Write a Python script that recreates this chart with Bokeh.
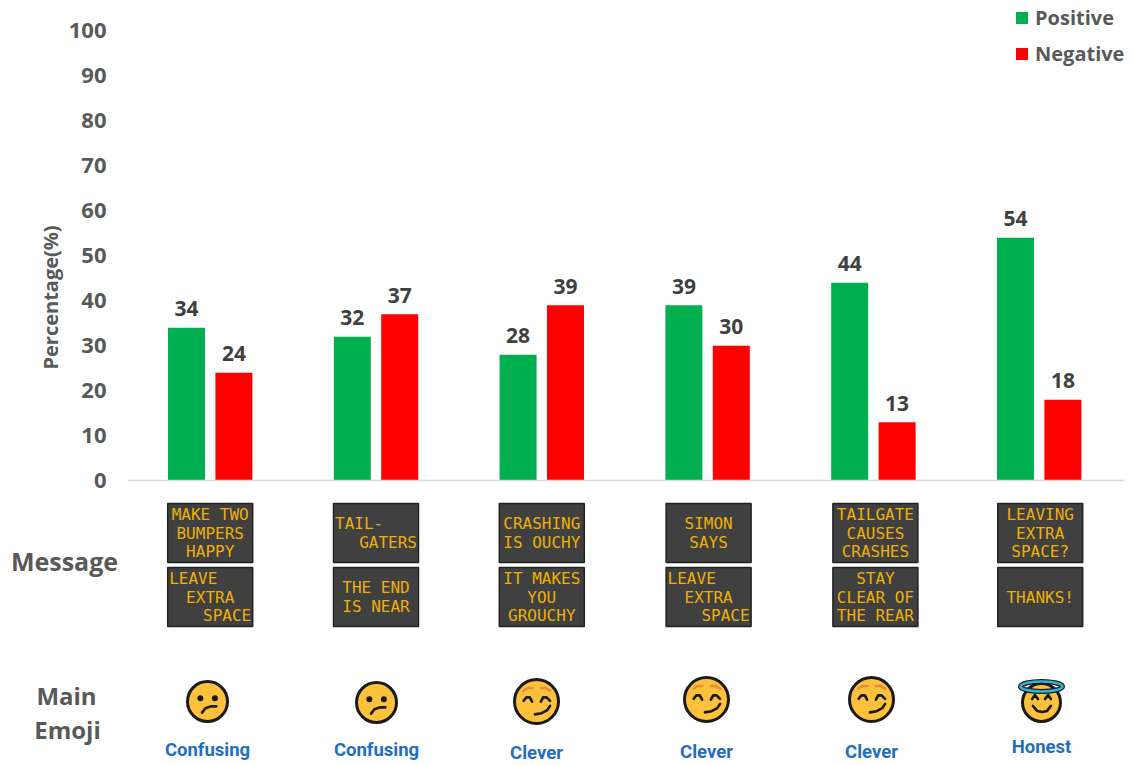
from bokeh.plotting import figure
from bokeh.models import (ColumnDataSource, Legend, LegendItem, FixedTicker, Range1d)
from bokeh.core.properties import value
from bokeh.embed import file_html
from bokeh.resources import INLINE

# ---------- data ----------
positive = [34, 32, 28, 39, 44, 54]
negative = [24, 37, 39, 30, 13, 18]
y_ticks = [0, 10, 20, 30, 40, 50, 60, 70, 80, 90, 100]
signs_top = [["MAKE TWO", "BUMPERS", "HAPPY"], ["TAIL-", "GATERS"], ["CRASHING", "IS OUCHY"],
             ["SIMON", "SAYS"], ["TAILGATE", "CAUSES", "CRASHES"], ["LEAVING", "EXTRA", "SPACE?"]]
signs_bottom = [["LEAVE", "EXTRA", "SPACE"], ["THE END", "IS NEAR"], ["IT MAKES", "YOU", "GROUCHY"],
                ["LEAVE", "EXTRA", "SPACE"], ["STAY", "CLEAR OF", "THE REAR"], ["THANKS!"]]
line_align = {"LEAVE": "left", "SPACE": "right", "TAIL-": "left", "GATERS": "right"}
emoji_kinds = ["confused", "confused", "clever", "clever", "clever", "honest"]
emoji_words = ["Confusing", "Confusing", "Clever", "Clever", "Clever", "Honest"]

# ---------- layout (page pixels) ----------
W, H = 1132, 765
X0, DX = 209.7, 165.8      # first group centre, group pitch
Y0, DY = 480.3, 4.5        # pixel row of zero, pixels per percent
LEFT = 128
def fx(px): return (px - X0) / DX
def fy(py): return (Y0 - py) / DY

GRAY = "#595959"
FONT = "Open Sans"
groups = list(range(len(positive)))

p = figure(width=W, height=H, output_backend="svg", toolbar_location=None,
           x_range=Range1d(fx(0), fx(W)), y_range=Range1d(fy(H), fy(0)),
           min_border_left=0, min_border_right=0, min_border_top=0, min_border_bottom=0,
           outline_line_color=None)
p.margin = (0, 0, 0, 0)
p.grid.visible = False

yax = p.yaxis[0]
yax.fixed_location = fx(LEFT)
yax.ticker = FixedTicker(ticks=y_ticks)
yax.bounds = (0, 100)
yax.axis_line_color = None
yax.major_tick_line_color = None
yax.minor_tick_line_color = None
yax.major_tick_in = 0
yax.major_tick_out = 0
yax.major_label_standoff = 22
yax.major_label_text_font = FONT
yax.major_label_text_font_style = "bold"
yax.major_label_text_font_size = "22px"
yax.major_label_text_color = GRAY

xax = p.xaxis[0]
xax.fixed_location = 0
xax.ticker = FixedTicker(ticks=[])
xax.bounds = (fx(LEFT), fx(1124))
xax.axis_line_color = "#D9D9D9"
xax.axis_line_width = 1.5
xax.major_tick_line_color = None
xax.minor_tick_line_color = None

# ---------- bars ----------
OFF, BW = 0.143, 37 / DX
src = ColumnDataSource(dict(g=groups, pos=positive, neg=negative,
                            xp=[g - OFF for g in groups], xn=[g + OFF for g in groups],
                            lp=[str(v) for v in positive], ln=[str(v) for v in negative]))
rp = p.vbar(x="xp", top="pos", bottom=0, width=BW, source=src, fill_color="#00B050", line_color=None)
rn = p.vbar(x="xn", top="neg", bottom=0, width=BW, source=src, fill_color="#FF0000", line_color=None)
for xf, tf in (("xp", "lp"), ("xn", "ln")):
    yf = "pos" if tf == "lp" else "neg"
    p.text(x=xf, y=yf, text=tf, source=src, text_align="center", text_baseline="middle", y_offset=-19,
           text_font=value(FONT), text_font_style="bold", text_font_size="21px", text_color="#404040")

legend = Legend(items=[LegendItem(label="Positive", renderers=[rp]), LegendItem(label="Negative", renderers=[rn])],
                location=(1014, H - 67), orientation="vertical", border_line_color=None,
                background_fill_color=None, padding=0, margin=0, spacing=9,
                glyph_width=15, glyph_height=15, label_standoff=6,
                label_text_font=FONT, label_text_font_style="bold", label_text_font_size="20px",
                label_text_color=GRAY)
p.add_layout(legend, "center")

# ---------- message signs ----------
panel_nudge = [0, 0, 0, 1, 2, 1]
PW = 85
ROW = 18.5
for signs, cy in ((signs_top, 532.5), (signs_bottom, 596.5)):
    p.rect(x=[g + n / DX for g, n in zip(groups, panel_nudge)], y=[fy(cy)] * 6,
           width=PW / DX, height=59 / DY, fill_color="#404040", line_color="#222222", line_width=1.5)
    rows = {"left": ([], [], []), "center": ([], [], []), "right": ([], [], [])}
    for g, lines in enumerate(signs):
        cx = X0 + g * DX + panel_nudge[g]
        for r, t in enumerate(lines):
            al = line_align.get(t, "center")
            px = {"left": cx - PW / 2 + 1.5, "center": cx, "right": cx + PW / 2 - 1.5}[al]
            rows[al][0].append(fx(px))
            rows[al][1].append(fy(cy + (r - (len(lines) - 1) / 2) * ROW))
            rows[al][2].append(t)
    for al, (xs, ys, ts) in rows.items():
        if ts:
            p.text(x=xs, y=ys, text=ts, text_align=al, text_baseline="middle",
                   text_font=value("DejaVu Sans Mono"), text_font_size="16px", text_color="#EDB006")

# ---------- emoji ----------
emoji_px = [(207, 701, 21), (376, 702, 21), (536, 701, 23), (706, 699, 23), (871, 699, 23), (1041, 702, 20)]
faces = {
    "confused": {"eyes": [(-.34, .16), (.35, .16)],
                 "black": [[(-.26, -.53), (-.1, -.32), (.18, -.23), (.42, -.23)]], "brow": []},
    "clever": {"eyes": [],
               "black": [[(-.56, .03), (-.44, .18), (-.29, .18), (-.19, -.01)],
                         [(.19, -.01), (.29, .18), (.44, .18), (.59, .03)],
                         [(-.07, -.56), (.22, -.51), (.47, -.37), (.59, -.19)]],
               "brow": [[(-.56, .47), (-.37, .6), (-.18, .59)], [(.19, .59), (.37, .6), (.59, .47)]]},
    "honest": {"eyes": [],
               "black": [[(-.47, .17), (-.33, .37), (-.17, .17)], [(.17, .17), (.33, .37), (.47, .17)],
                         [(-.43, -.17), (-.22, -.42), (.03, -.47), (.28, -.42), (.47, -.17)]],
               "brow": []},
}
for (ex, ey, er), kind in zip(emoji_px, emoji_kinds):
    p.scatter(x=[fx(ex)], y=[fy(ey)], size=2 * er - 2, marker="circle", fill_color="#FDC13C",
              line_color="#1A1A1A", line_width=3)
    f = faces[kind]
    def seg(pts):
        return [fx(ex + a * er) for a, b in pts], [fy(ey - b * er) for a, b in pts]
    for pts, col in [(q, "#1A1A1A") for q in f["black"]] + [(q, "#E58F3B") for q in f["brow"]]:
        xs, ys = seg(pts)
        p.line(xs, ys, line_color=col, line_width=2.6, line_cap="round", line_join="round")
    if f["eyes"]:
        xs, ys = seg(f["eyes"])
        p.scatter(xs, ys, size=6, marker="circle", fill_color="#1A1A1A", line_color=None)
    if kind == "honest":
        p.ellipse(x=[fx(ex)], y=[fy(ey - 16)], width=42 / DX, height=10 / DY,
                  fill_color=None, line_color="#1A1A1A", line_width=5)
        p.ellipse(x=[fx(ex)], y=[fy(ey - 16)], width=42 / DX, height=10 / DY,
                  fill_color=None, line_color="#2DB5DC", line_width=2.5)

word_px = [(207, 749), (376, 749), (536, 752), (706, 751), (871, 751), (1041, 746)]
p.text(x=[fx(a) for a, b in word_px], y=[fy(b) for a, b in word_px], text=emoji_words,
       text_align="center", text_baseline="middle", text_font=value("Roboto"),
       text_font_style="bold", text_font_size="18.5px", text_color="#1F6FC0")

# ---------- free labels ----------
def lab(txt, px, py, size, angle=0.0):
    p.text(x=[fx(px)], y=[fy(py)], text=[txt], text_align="center", text_baseline="middle", angle=angle,
           text_font=value(FONT), text_font_style="bold", text_font_size=size, text_color=GRAY)
lab("Percentage(%)", 50, 297, "20px", angle=1.5708)
lab("Message", 64, 560.5, "25px")
lab("Main", 66, 695, "24px")
lab("Emoji", 67, 729, "24px")

open("out.html", "w").write(file_html(p, INLINE))
